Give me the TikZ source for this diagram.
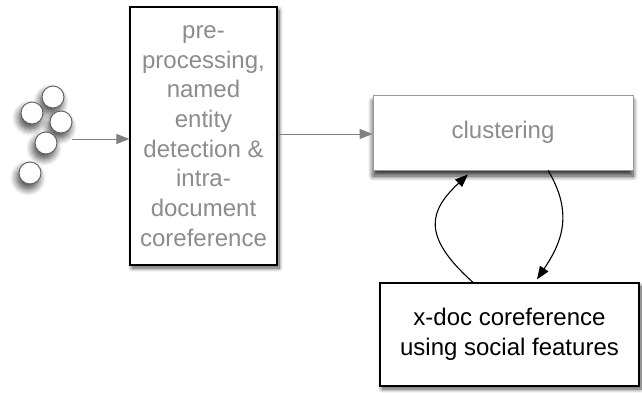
\documentclass[tikz,border=0pt]{standalone}
\usepackage{fontspec}
\setmainfont{Liberation Sans}
\usetikzlibrary{arrows.meta,shadows.blur}
\definecolor{txtgray}{RGB}{140,140,140}
\definecolor{arrgray}{RGB}{128,128,128}
\begin{document}
\begin{tikzpicture}[x=1pt,y=-1pt,
  font=\fontsize{24}{29.7}\selectfont,
  sh/.style={blur shadow={shadow xshift=2pt,shadow yshift=-3pt,shadow blur steps=10,shadow blur radius=4pt,shadow opacity=70}},
  boxa/.style={draw=black,line width=1.2pt,fill=white,inner sep=0pt,align=center,sh},
  boxb/.style={draw=black!40,line width=0.8pt,fill=white,inner sep=0pt,align=center,
    blur shadow={shadow xshift=0pt,shadow yshift=-6pt,shadow blur steps=10,shadow blur radius=5pt,shadow opacity=80}},
  doc/.style={circle,draw=black!60,line width=1pt,fill=white,minimum size=22pt,inner sep=0pt,
    blur shadow={shadow xshift=-2pt,shadow yshift=-5pt,shadow blur steps=10,shadow blur radius=7pt,shadow opacity=75}},
  garrow/.style={draw=arrgray,line width=1pt,-{Triangle[length=13pt,width=10pt]}},
  barrow/.style={draw=black,line width=1.1pt,-{Triangle[length=13pt,width=10pt]}}]
\useasboundingbox (0,0) rectangle (642,392);
\node[doc] (c1) at (53,97) {};
\node[doc] (c2) at (32,113) {};
\node[doc] (c3) at (61,122) {};
\node[doc] (c4) at (46,143) {};
\node[doc] (c5) at (30,173) {};
\node[boxa,minimum width=147pt,minimum height=258pt,text=txtgray] (pre) at (203.5,136)
  {\rule{0pt}{10pt}pre-\\processing,\\named\\entity\\detection \&\\intra-\\document\\coreference};
\node[boxb,minimum width=260pt,minimum height=75pt,text=txtgray] (clus) at (503,132.5) {clustering};
\node[boxa,minimum width=259pt,minimum height=103pt] (xdoc) at (509.5,334.5)
  {x-doc coreference\\using social features};
\coordinate (src) at (72,139);
\draw[garrow] (src) -- (src -| pre.west);
\draw[garrow] (pre.east |- 0,134) -- (clus.west |- 0,134);
\coordinate (ua) at ([xshift=-36.5pt]xdoc.north);
\coordinate (ub) at ([xshift=-35pt,yshift=-4pt]clus.south);
\draw[barrow] (ua) .. controls (420,235) and (430,210) .. (ub);
\coordinate (da) at ([xshift=45pt]clus.south);
\coordinate (db) at ([xshift=27.5pt,yshift=3pt]xdoc.north);
\draw[barrow] (da) .. controls (575,215) and (560,245) .. (db);
\end{tikzpicture}
\end{document}
